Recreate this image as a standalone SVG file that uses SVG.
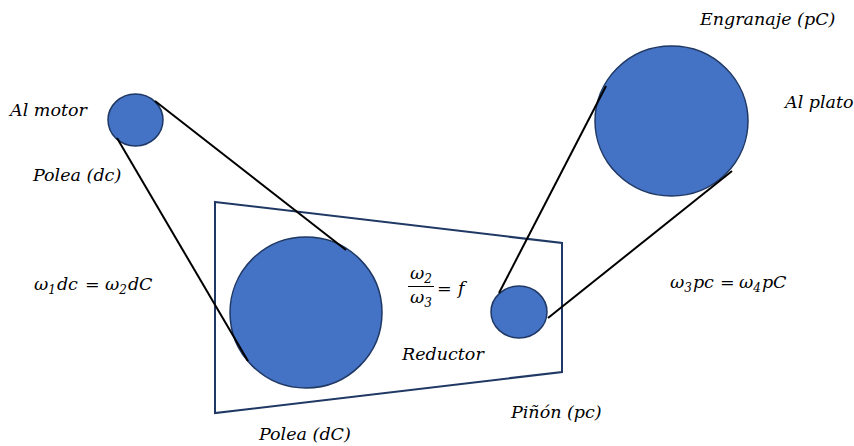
<svg xmlns="http://www.w3.org/2000/svg" width="854" height="446" viewBox="0 0 854 446">
<style>
.t{font-family:"DejaVu Serif","Liberation Serif",serif;font-style:italic;font-size:17.5px;fill:#000}
.s{font-size:12px}
.wheel{fill:#4472c4;stroke:#1f3864;stroke-width:1.5}
.belt{stroke:#000;stroke-width:2;fill:none}
</style>
<rect width="854" height="446" fill="#fff"/>
<g id="reductor">
<polygon points="215,202 562,243 562,372 215,413" fill="none" stroke="#1f3864" stroke-width="2"/>
<text class="t" x="402" y="360">Reductor</text>
</g>
<g id="polea-dc">
<ellipse class="wheel" cx="135.5" cy="120" rx="27.5" ry="26"/>
</g>
<g id="polea-dC">
<ellipse class="wheel" cx="306" cy="312.5" rx="76" ry="75.5"/>
</g>
<g id="pinon">
<ellipse class="wheel" cx="519" cy="312" rx="28" ry="26"/>
</g>
<g id="engranaje">
<ellipse class="wheel" cx="671.5" cy="121" rx="76.5" ry="75"/>
</g>
<g id="connectors">
<line class="belt" x1="155" y1="101" x2="346" y2="250"/>
<line class="belt" x1="117" y1="138" x2="248" y2="361"/>
<line class="belt" x1="606" y1="86" x2="499" y2="293"/>
<line class="belt" x1="732" y1="171" x2="548" y2="318"/>
</g>
<g id="labels">
<text class="t" x="10" y="116">Al motor</text>
<text class="t" x="33" y="181">Polea (dc)</text>
<text class="t" x="34" y="290">ω<tspan class="s" dy="4">1</tspan><tspan dx="1" dy="-4">dc</tspan><tspan x="85">=</tspan><tspan x="105">ω</tspan><tspan class="s" dy="4">2</tspan><tspan dx="1" dy="-4">dC</tspan></text>
<text class="t" x="410" y="279">ω<tspan class="s" dy="4">2</tspan></text>
<line x1="408" y1="286.5" x2="434" y2="286.5" stroke="#000" stroke-width="1"/>
<text class="t" x="410" y="303">ω<tspan class="s" dy="4">3</tspan></text>
<text class="t" x="437" y="294">=<tspan x="458">f</tspan></text>
<text class="t" x="700" y="25">Engranaje (pC)</text>
<text class="t" x="785" y="108">Al plato</text>
<text class="t" x="670" y="288">ω<tspan class="s" dy="4">3</tspan><tspan dx="1" dy="-4">pc</tspan><tspan x="720">=</tspan><tspan x="739">ω</tspan><tspan class="s" dy="4">4</tspan><tspan dx="1" dy="-4">pC</tspan></text>
<text class="t" x="511" y="418">Piñón (pc)</text>
<text class="t" x="259" y="440">Polea (dC)</text>
</g>
</svg>
